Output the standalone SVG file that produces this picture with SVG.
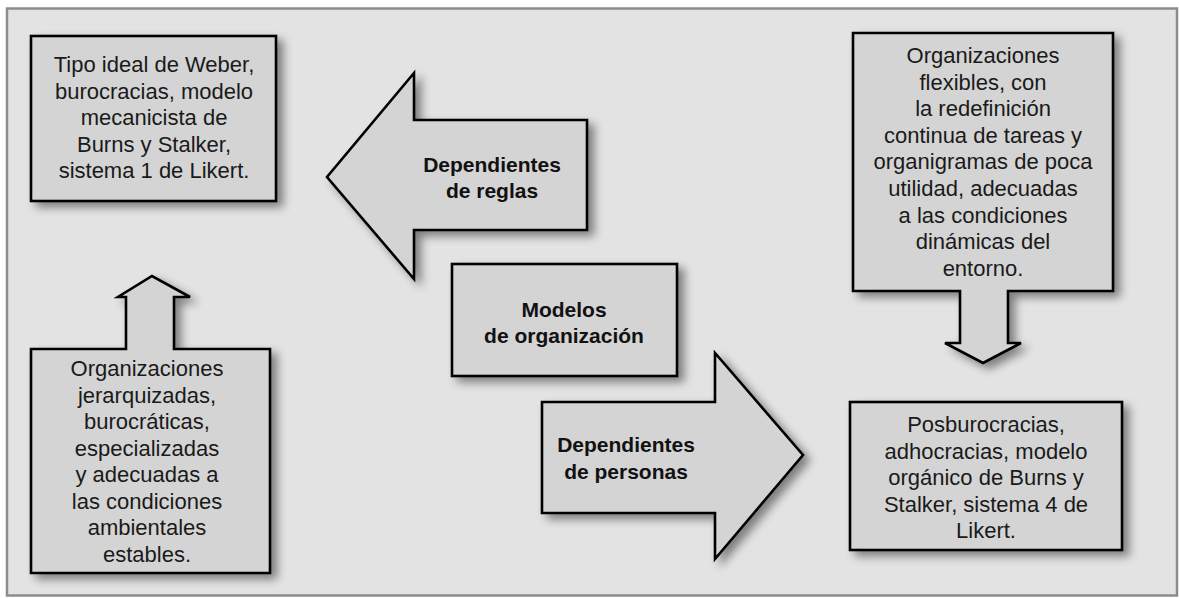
<svg xmlns="http://www.w3.org/2000/svg" width="1179" height="598" viewBox="0 0 1179 598">
  <defs>
    <filter id="shadow" x="-20%" y="-20%" width="150%" height="150%">
      <feGaussianBlur in="SourceAlpha" stdDeviation="5"/>
      <feOffset dx="6" dy="5" result="b"/>
      <feComponentTransfer><feFuncA type="linear" slope="0.45"/></feComponentTransfer>
      <feMerge><feMergeNode/><feMergeNode in="SourceGraphic"/></feMerge>
    </filter>
  </defs>
  <style>
    .shape { fill: #d4d4d4; stroke: #000; stroke-width: 2.6; stroke-linejoin: miter; filter: url(#shadow); }
    .t { font-family: "Liberation Sans", Arial, sans-serif; font-size: 22px; fill: #1a1a1a; text-anchor: middle; }
    .b { font-family: "Liberation Sans", Arial, sans-serif; font-size: 21px; font-weight: bold; fill: #111; text-anchor: middle; }
  </style>
  <rect x="0" y="0" width="1179" height="598" fill="#ffffff"/>
  <rect x="7" y="8.5" width="1170" height="587" fill="#e3e3e3" stroke="#8c8c8c" stroke-width="2.5"/>

  <g id="weber">
    <rect class="shape" x="31" y="36" width="245" height="165"/>
    <text class="t" x="154" y="72">Tipo ideal de Weber,</text>
    <text class="t" x="154" y="98.5">burocracias, modelo</text>
    <text class="t" x="154" y="125">mecanicista de</text>
    <text class="t" x="154" y="151.5">Burns y Stalker,</text>
    <text class="t" x="154" y="178">sistema 1 de Likert.</text>
  </g>

  <g id="reglas">
    <polygon class="shape" points="587,120 414,120 414,73 327,177 414,279 414,230 587,230"/>
    <text class="b" x="492" y="172">Dependientes</text>
    <text class="b" x="492" y="198">de reglas</text>
  </g>

  <g id="modelos">
    <rect class="shape" x="452" y="264" width="225" height="112"/>
    <text class="b" x="564" y="317">Modelos</text>
    <text class="b" x="564" y="343">de organización</text>
  </g>

  <g id="personas">
    <polygon class="shape" points="542,402 715,402 715,353 803,455 715,559 715,513 542,513"/>
    <text class="b" x="626" y="452">Dependientes</text>
    <text class="b" x="626" y="479">de personas</text>
  </g>

  <g id="flexibles">
    <path class="shape" d="M853,33 H1113 V291 H1008 V343 H1021 L983,363 L945,343 H960 V291 H853 Z"/>
    <text class="t" x="983" y="63">Organizaciones</text>
    <text class="t" x="983" y="89.6">flexibles, con</text>
    <text class="t" x="983" y="116.2">la redefinición</text>
    <text class="t" x="983" y="142.8">continua de tareas y</text>
    <text class="t" x="983" y="169.4">organigramas de poca</text>
    <text class="t" x="983" y="196">utilidad, adecuadas</text>
    <text class="t" x="983" y="222.6">a las condiciones</text>
    <text class="t" x="983" y="249.2">dinámicas del</text>
    <text class="t" x="983" y="275.8">entorno.</text>
  </g>

  <g id="posburocracias">
    <rect class="shape" x="850" y="402" width="272" height="148"/>
    <text class="t" x="986" y="432">Posburocracias,</text>
    <text class="t" x="986" y="458.6">adhocracias, modelo</text>
    <text class="t" x="986" y="485.2">orgánico de Burns y</text>
    <text class="t" x="986" y="511.8">Stalker, sistema 4 de</text>
    <text class="t" x="986" y="538.4">Likert.</text>
  </g>

  <g id="jerarquizadas">
    <path class="shape" d="M31,349 H126 V297 H118 L152,276 L190,297 H174 V349 H270 V573 H31 Z"/>
    <text class="t" x="147" y="376">Organizaciones</text>
    <text class="t" x="147" y="402.5">jerarquizadas,</text>
    <text class="t" x="147" y="429">burocráticas,</text>
    <text class="t" x="147" y="455.5">especializadas</text>
    <text class="t" x="147" y="482">y adecuadas a</text>
    <text class="t" x="147" y="508.5">las condiciones</text>
    <text class="t" x="147" y="535">ambientales</text>
    <text class="t" x="147" y="561.5">estables.</text>
  </g>

  <g id="connectors"></g>
</svg>
